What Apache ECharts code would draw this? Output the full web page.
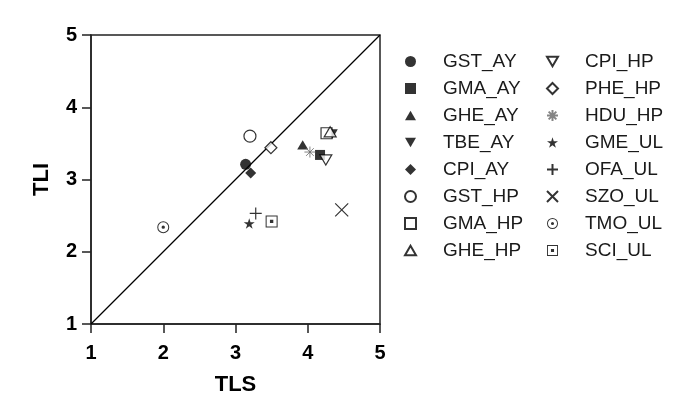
<!DOCTYPE html>
<html>
<head>
<meta charset="utf-8">
<script src="https://cdn.jsdelivr.net/npm/echarts@6/dist/echarts.min.js"></script>
<style>html,body{margin:0;padding:0;background:#fff;}#c{width:683px;height:404px;}</style>
</head>
<body>
<div id="c"></div>
<script>
// ---- data ----
const seriesNames = ['GST_AY','GMA_AY','GHE_AY','TBE_AY','CPI_AY','GST_HP','GMA_HP','GHE_HP',
                     'CPI_HP','PHE_HP','HDU_HP','GME_UL','OFA_UL','SZO_UL','TMO_UL','SCI_UL'];
const tlsValues = [3.14, 4.17, 3.93, 4.34, 3.21, 3.20, 4.26, 4.31, 4.25, 3.49, 4.03, 3.19, 3.28, 4.47, 2.00, 3.50];
const tliValues = [3.21, 3.34, 3.48, 3.63, 3.09, 3.60, 3.64, 3.66, 3.27, 3.44, 3.38, 2.39, 2.53, 2.58, 2.34, 2.42];
const axisTicks = [1, 2, 3, 4, 5];
const diagonal = [[1, 1], [5, 5]];

// ---- marker styles ----
const P = {
  up: 'path://M10,0 L20,17 L0,17 Z',
  down: 'path://M0,0 L20,0 L10,17 Z',
  star: 'path://M50,0 L61.17,34.63 L97.55,34.55 L68.07,55.87 L79.39,90.45 L50,69 L20.61,90.45 L31.93,55.87 L2.45,34.55 L38.83,34.63 Z',
  plus: 'path://M10,0 L10,20 M0,10 L20,10',
  cross: 'path://M0,0 L20,20 M20,0 L0,20',
  aster: 'path://M10,0 L10,20 M0,10 L20,10 M3,3 L17,17 M17,3 L3,17',
  ringDot: 'path://M0,10 A10,10 0 1,1 20,10 A10,10 0 1,1 0,10 Z M1.7,10 A8.3,8.3 0 1,0 18.3,10 A8.3,8.3 0 1,0 1.7,10 Z M7.2,10 A2.8,2.8 0 1,1 12.8,10 A2.8,2.8 0 1,1 7.2,10 Z',
  boxDot: 'path://M0,0 L20,0 L20,20 L0,20 Z M1.7,1.7 L1.7,18.3 L18.3,18.3 L18.3,1.7 Z M7.2,7.2 L12.8,7.2 L12.8,12.8 L7.2,12.8 Z'
};
const filled = {color: '#000', borderWidth: 0};
const open = {color: '#fff', borderColor: '#000', borderWidth: 1.2};
const stroke = {color: '#000', borderColor: '#000', borderWidth: 1.2};
const markers = [
  {symbol: 'circle', size: 11, style: filled},
  {symbol: 'rect', size: 10, style: filled},
  {symbol: P.up, size: 11, style: filled},
  {symbol: P.down, size: 11, style: filled},
  {symbol: 'diamond', size: 11, style: filled},
  {symbol: 'circle', size: 12, style: open},
  {symbol: 'rect', size: 11, style: open},
  {symbol: P.up, size: 12, style: open},
  {symbol: P.down, size: 12, style: open},
  {symbol: 'diamond', size: 12, style: open},
  {symbol: P.aster, size: 11, style: {color: '#666', borderColor: '#666', borderWidth: 1}},
  {symbol: P.star, size: 11, style: filled},
  {symbol: P.plus, size: 12, style: stroke},
  {symbol: P.cross, size: 13, style: stroke},
  {symbol: P.ringDot, size: 12, style: filled},
  {symbol: P.boxDot, size: 12, style: filled}
];

const series = seriesNames.map((name, i) => ({
  name: name,
  type: 'scatter',
  data: [[tlsValues[i], tliValues[i]]],
  symbol: markers[i].symbol,
  symbolSize: markers[i].size,
  symbolKeepAspect: true,
  itemStyle: markers[i].style,
  z: 3,
  emphasis: {disabled: true}
}));
series.unshift({
  name: 'diag',
  type: 'line',
  data: diagonal,
  symbol: 'none',
  silent: true,
  lineStyle: {color: '#000', width: 1.3},
  z: 2
});

const legendCommon = {
  orient: 'vertical',
  top: 48,
  padding: 0,
  itemGap: 0,
  itemWidth: 11,
  itemHeight: 11,
  selectedMode: false,
  textStyle: {fontFamily: 'Liberation Sans, Arial, sans-serif', fontSize: 19, color: '#1a1a1a', lineHeight: 27, padding: [0, 0, 0, 22]}
};

const axisCommon = {
  type: 'value',
  min: axisTicks[0],
  max: axisTicks[axisTicks.length - 1],
  interval: 1,
  nameLocation: 'middle',
  nameTextStyle: {fontFamily: 'Liberation Sans, Arial, sans-serif', fontWeight: 'bold', fontSize: 22, color: '#000'},
  axisLine: {show: true, lineStyle: {color: '#222', width: 1.5}},
  axisTick: {show: true, inside: false, length: 9, lineStyle: {color: '#222', width: 1.5}},
  axisLabel: {margin: 14, fontFamily: 'Liberation Sans, Arial, sans-serif', fontWeight: 'bold', fontSize: 20, color: '#000'},
  splitLine: {show: false}
};

const chart = echarts.init(document.getElementById('c'), null, {renderer: 'canvas'});
chart.setOption({
  backgroundColor: '#fff',
  animation: false,
  grid: {left: 91, top: 35, right: 303, bottom: 80, show: true, borderColor: '#222', borderWidth: 1.5, backgroundColor: 'transparent'},
  xAxis: Object.assign({}, axisCommon, {name: 'TLS', nameGap: 50,
    axisLabel: Object.assign({}, axisCommon.axisLabel, {margin: 19})}),
  yAxis: Object.assign({}, axisCommon, {name: 'TLI', nameGap: 38}),
  legend: [
    Object.assign({}, legendCommon, {left: 404, data: seriesNames.slice(0, 8)}),
    Object.assign({}, legendCommon, {left: 546, data: seriesNames.slice(8)})
  ],
  series: series
});
</script>
</body>
</html>
